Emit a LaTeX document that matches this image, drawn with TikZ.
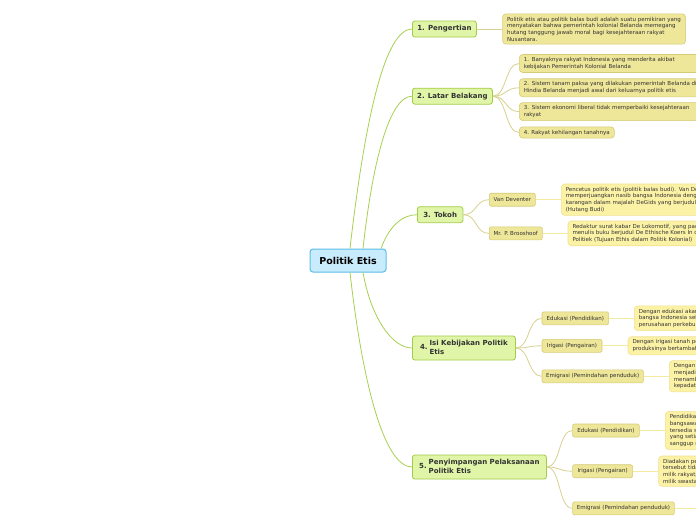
\documentclass[tikz,border=0pt]{standalone}
\usepackage{fontspec}
\setmainfont{DejaVu Sans}
\definecolor{cfill}{HTML}{C8ECFC}
\definecolor{cdraw}{HTML}{5CBDE8}
\definecolor{tfill}{HTML}{E0F5A8}
\definecolor{tdraw}{HTML}{A2CC48}
\definecolor{sfill}{HTML}{EEE698}
\definecolor{sdraw}{HTML}{D6CC78}
\definecolor{lfill}{HTML}{FCF2A6}
\definecolor{ldraw}{HTML}{F0E290}
\definecolor{gline}{HTML}{A8D050}
\definecolor{oline}{HTML}{D8D190}
\definecolor{yline}{HTML}{F5EBA0}
\definecolor{txt}{HTML}{333333}
\tikzset{
 centrebox/.style={draw=cdraw, fill=cfill, line width=1pt, rounded corners=3pt, font=\fontsize{9.5}{11}\selectfont\bfseries, text=black, minimum width=76pt, minimum height=23pt, inner sep=0pt},
 topicbox/.style={draw=tdraw, fill=tfill, line width=0.8pt, rounded corners=2.5pt, font=\fontsize{7}{9}\selectfont\bfseries, text=txt, minimum height=16pt, inner sep=0pt, anchor=west},
 subbox/.style={draw=sdraw, fill=sfill, line width=0.6pt, rounded corners=2pt, font=\fontsize{5.5}{6.7}\selectfont, text=txt, minimum height=13pt, inner sep=0pt, anchor=west},
 sleafbox/.style={draw=sdraw, fill=sfill, line width=0.6pt, rounded corners=3.5pt, font=\fontsize{5.5}{6.7}\selectfont, text=txt, align=left, inner xsep=4.5pt, inner ysep=3pt, anchor=west},
 leafbox/.style={draw=ldraw, fill=lfill, line width=0.6pt, rounded corners=3.5pt, font=\fontsize{5.5}{6.7}\selectfont, text=txt, align=left, inner xsep=4.5pt, inner ysep=3pt, anchor=west},
 gconn/.style={draw=gline, line width=0.8pt},
 oconn/.style={draw=oline, line width=0.8pt},
 yconn/.style={draw=yline, line width=1pt},
}
\begin{document}
\begin{tikzpicture}[x=1pt,y=-1pt]
\useasboundingbox (0,0) rectangle (696,520);
\fill[white] (0,0) rectangle (696,520);
\clip (0,0) rectangle (696,520);

% centre
\node[centrebox] (c) at (348,260.5) {Politik Etis};

% main topics
\node[topicbox, minimum width=64pt] (t1) at (412,29) {1. Pengertian};
\node[topicbox, minimum width=80pt] (t2) at (412,96.2) {2. Latar Belakang};
\node[topicbox, minimum width=45.5pt] (t3) at (417,214.7) {3. Tokoh};
\node[topicbox, minimum width=103pt, minimum height=24pt] (t4) at (412,348) {4.\hspace{2pt}\begin{tabular}{@{}l@{}}Isi Kebijakan Politik\\Etis\end{tabular}};
\node[topicbox, minimum width=134pt, minimum height=24pt] (t5) at (412,467) {5.\hspace{2pt}\begin{tabular}{@{}l@{}}Penyimpangan Pelaksanaan\\Politik Etis\end{tabular}};

% 1
\node[sleafbox, text width=174pt] (p1) at (502.3,29) {Politik etis atau politik balas budi adalah suatu pemikiran yang\\menyatakan bahwa pemerintah kolonial Belanda memegang\\hutang tanggung jawab moral bagi kesejahteraan rakyat\\Nusantara.};

% 2
\node[sleafbox, text width=185pt] (l21) at (519,63.5) {1. Banyaknya rakyat Indonesia yang menderita akibat\\kebijakan Pemerintah Kolonial Belanda};
\node[sleafbox, text width=185pt] (l22) at (519,87.8) {2. Sistem tanam paksa yang dilakukan pemerintah Belanda di\\Hindia Belanda menjadi awal dari keluarnya politik etis};
\node[sleafbox, text width=185pt] (l23) at (519,111.6) {3. Sistem ekonomi liberal tidak memperbaiki kesejahteraan\\rakyat};
\node[sleafbox] (l24) at (519,132.5) {4. Rakyat kehilangan tanahnya};

% 3
\node[subbox, minimum width=46pt] (s31) at (489,199.7) {Van Deventer};
\node[subbox, minimum width=53pt] (s32) at (489,233.4) {Mr. P. Brooshoof};
\node[leafbox, text width=180pt] (l31) at (561,199.7) {Pencetus politik etis (politik balas budi). Van Deventer\\memperjuangkan nasib bangsa Indonesia dengan\\karangan dalam majalah DeGids yang berjudul\\(Hutang Budi)};
\node[leafbox, text width=180pt] (l32) at (567.7,233.4) {Redaktur surat kabar De Lokomotif, yang pada\\menulis buku berjudul De Ethische Koers In de\\Politiek (Tujuan Ethis dalam Politik Kolonial)};

% 4
\node[subbox, minimum width=66.6pt] (s41) at (541.7,318.3) {Edukasi (Pendidikan)};
\node[subbox, minimum width=60pt] (s42) at (541.7,345.8) {Irigasi (Pengairan)};
\node[subbox, minimum width=101.3pt] (s43) at (541.7,376.3) {Emigrasi (Pemindahan penduduk)};
\node[leafbox, text width=150pt] (l41) at (634,318.3) {Dengan edukasi akan\\bangsa Indonesia sebagai\\perusahaan perkebunan};
\node[leafbox, text width=150pt] (l42) at (627.7,345.8) {Dengan irigasi tanah pertanian\\produksinya bertambah};
\node[leafbox, text width=150pt] (l43) at (669,376.3) {Dengan\\menjadi\\menambah\\kepadatan};

% 5
\node[subbox, minimum width=66.7pt] (s51) at (572.3,430.5) {Edukasi (Pendidikan)};
\node[subbox, minimum width=60pt] (s52) at (572.3,471.2) {Irigasi (Pengairan)};
\node[subbox, minimum width=101.7pt] (s53) at (572.3,508.3) {Emigrasi (Pemindahan penduduk)};
\node[leafbox, text width=150pt] (l51) at (665,430.5) {Pendidikan\\bangsawan\\tersedia sekolah\\yang setia\\sanggup membayar};
\node[leafbox, text width=150pt] (l52) at (658.3,471.2) {Diadakan pengairan\\tersebut tidak\\milik rakyat,\\milik swasta};
\coordinate (e53) at (720,508.3);

% main connectors
\draw[gconn] ([xshift=2pt]c.north) .. controls +(15,-130) and +(-27,0) .. (t1.west);
\draw[gconn] ([xshift=15pt]c.north) .. controls +(10,-90) and +(-22,0) .. (t2.west);
\draw[gconn] ([xshift=33pt]c.north) .. controls +(8,-22) and +(-15,0) .. (t3.west);
\draw[gconn] ([xshift=15pt]c.south) .. controls +(8,45) and +(-20,0) .. (t4.west);
\draw[gconn] ([xshift=2pt]c.south) .. controls +(13,115) and +(-27,0) .. (t5.west);

% sub connectors
\draw[oconn] (t1.east) -- (p1.west);
\foreach \n in {l21,l22,l23,l24}{\draw[oconn] (t2.east) .. controls +(14,0) and +(-14,0) .. (\n.west);}
\foreach \n in {s31,s32}{\draw[oconn] (t3.east) .. controls +(14,0) and +(-14,0) .. (\n.west);}
\foreach \n in {s41,s42,s43}{\draw[oconn] (t4.east) .. controls +(14,0) and +(-14,0) .. (\n.west);}
\foreach \n in {s51,s52,s53}{\draw[oconn] (t5.east) .. controls +(14,0) and +(-14,0) .. (\n.west);}

% leaf connectors
\draw[yconn] (s31.east) -- (l31.west);
\draw[yconn] (s32.east) -- (l32.west);
\draw[yconn] (s41.east) -- (l41.west);
\draw[yconn] (s42.east) -- (l42.west);
\draw[yconn] (s43.east) -- (l43.west);
\draw[yconn] (s51.east) -- (l51.west);
\draw[yconn] (s52.east) -- (l52.west);
\draw[yconn] (s53.east) -- (s53.east -| e53);
\end{tikzpicture}
\end{document}
